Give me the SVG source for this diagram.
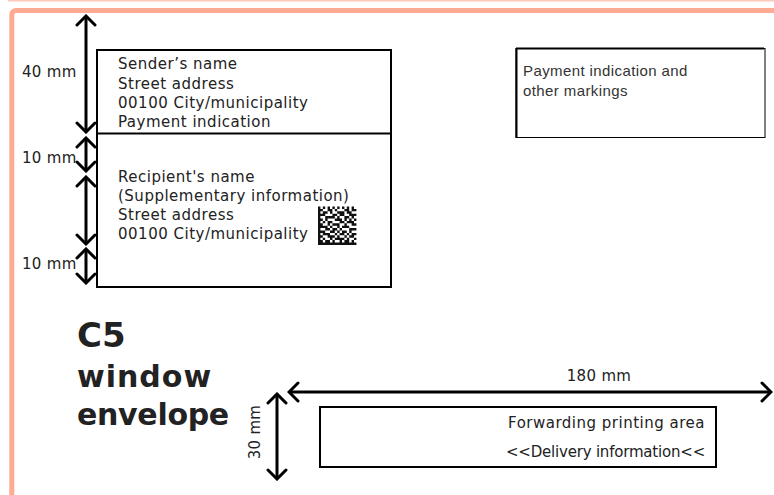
<svg xmlns="http://www.w3.org/2000/svg" width="774" height="495" viewBox="0 0 774 495">
<defs>
<marker id="chev" viewBox="-12 -12 14 24" markerWidth="14" markerHeight="24" refX="0" refY="0" markerUnits="userSpaceOnUse" orient="auto-start-reverse">
<path d="M-9,-9 L0,0 L-9,9" fill="none" stroke="#000" stroke-width="3" stroke-linecap="round" stroke-linejoin="miter"/>
</marker>
<style>
.t{font-family:"DejaVu Sans","Liberation Sans",sans-serif;font-size:15px;fill:#222;letter-spacing:0.5px}
.d{font-family:"DejaVu Sans","Liberation Sans",sans-serif;font-size:15px;fill:#222;letter-spacing:0.3px}
.a{font-family:"Liberation Sans",Arial,sans-serif;font-size:15px;fill:#333;letter-spacing:0.4px}
.h{font-family:"DejaVu Sans","Liberation Sans",sans-serif;font-weight:bold;fill:#222}
.box{fill:#fff;stroke:#000;stroke-width:2}
.dim{stroke:#000;stroke-width:3;fill:none;marker-start:url(#chev);marker-end:url(#chev)}
</style>
</defs>
<rect width="774" height="495" fill="#fff"/>
<g id="frame">
<line x1="8" y1="0.7" x2="774" y2="0.7" stroke="#ffc8b8" stroke-width="1.5"/>
<rect x="11.8" y="10.5" width="800" height="600" rx="4" fill="none" stroke="#ffab94" stroke-width="5"/>
</g>
<g id="address-window">
<rect class="box" x="97" y="50" width="294" height="237"/>
<line x1="97" y1="133.5" x2="391" y2="133.5" stroke="#000" stroke-width="2"/>
<text class="t" x="118" y="69">Sender’s name</text>
<text class="t" x="118" y="89">Street address</text>
<text class="t" x="118" y="108">00100 City/municipality</text>
<text class="t" x="118" y="127">Payment indication</text>
<text class="t" x="118" y="182">Recipient's name</text>
<text class="t" x="118" y="201">(Supplementary information)</text>
<text class="t" x="118" y="220">Street address</text>
<text class="t" x="118" y="239">00100 City/municipality</text>
<path transform="translate(318,206.5) scale(2.4)" fill="#111" d="M0 0h1v1h-1zM2 0h1v1h-1zM4 0h1v1h-1zM6 0h1v1h-1zM8 0h1v1h-1zM10 0h1v1h-1zM12 0h1v1h-1zM14 0h1v1h-1zM0 1h2v1h-2zM4 1h2v1h-2zM7 1h1v1h-1zM11 1h2v1h-2zM14 1h2v1h-2zM0 2h1v1h-1zM2 2h2v1h-2zM5 2h1v1h-1zM8 2h3v1h-3zM12 2h2v1h-2zM0 3h3v1h-3zM6 3h2v1h-2zM9 3h2v1h-2zM13 3h3v1h-3zM0 4h1v1h-1zM3 4h4v1h-4zM8 4h1v1h-1zM11 4h2v1h-2zM14 4h1v1h-1zM0 5h2v1h-2zM3 5h1v1h-1zM7 5h3v1h-3zM11 5h1v1h-1zM13 5h1v1h-1zM15 5h1v1h-1zM0 6h1v1h-1zM2 6h1v1h-1zM4 6h2v1h-2zM9 6h2v1h-2zM12 6h3v1h-3zM0 7h2v1h-2zM4 7h1v1h-1zM6 7h3v1h-3zM11 7h1v1h-1zM14 7h2v1h-2zM0 8h4v1h-4zM5 8h1v1h-1zM8 8h1v1h-1zM10 8h3v1h-3zM0 9h1v1h-1zM3 9h2v1h-2zM6 9h2v1h-2zM9 9h1v1h-1zM13 9h3v1h-3zM0 10h3v1h-3zM5 10h2v1h-2zM8 10h1v1h-1zM10 10h2v1h-2zM13 10h1v1h-1zM0 11h1v1h-1zM2 11h3v1h-3zM7 11h1v1h-1zM9 11h2v1h-2zM12 11h1v1h-1zM14 11h2v1h-2zM0 12h2v1h-2zM4 12h3v1h-3zM8 12h1v1h-1zM11 12h1v1h-1zM13 12h2v1h-2zM0 13h1v1h-1zM2 13h1v1h-1zM5 13h1v1h-1zM7 13h4v1h-4zM12 13h1v1h-1zM15 13h1v1h-1zM0 14h2v1h-2zM3 14h2v1h-2zM6 14h1v1h-1zM9 14h1v1h-1zM11 14h2v1h-2zM14 14h1v1h-1zM0 15h16v1h-16z"/>
</g>
<g id="payment-box">
<rect x="516" y="48.5" width="249" height="89" fill="#fff" stroke="#000" stroke-width="1"/>
<line x1="516.5" y1="48" x2="516.5" y2="138" stroke="#000" stroke-width="2"/>
<line x1="516" y1="48.5" x2="764" y2="48.5" stroke="#000" stroke-width="2"/>
<text class="a" x="523" y="76">Payment indication and</text>
<text class="a" x="523" y="96">other markings</text>
</g>
<g id="title">
<text class="h" x="77" y="347" font-size="34">C5</text>
<text class="h" x="77" y="387" font-size="30" letter-spacing="1">window</text>
<text class="h" x="77" y="425" font-size="30" letter-spacing="-0.3">envelope</text>
</g>
<g id="forwarding-area">
<rect class="box" x="320" y="407" width="396" height="60"/>
<text class="t" x="705" y="428" text-anchor="end">Forwarding printing area</text>
<text class="t" x="705" y="457" text-anchor="end" style="letter-spacing:-0.2px">&lt;&lt;Delivery information&lt;&lt;</text>
</g>
<g id="connectors">
<line class="dim" x1="86" y1="16" x2="86" y2="132"/>
<line class="dim" x1="86" y1="138" x2="86" y2="171"/>
<line class="dim" x1="86" y1="177" x2="86" y2="244"/>
<line class="dim" x1="86" y1="249" x2="86" y2="283"/>
<line class="dim" x1="277" y1="394" x2="277" y2="479"/>
<line class="dim" x1="289" y1="392" x2="771" y2="392"/>
</g>
<g id="dimension-labels">
<text class="d" x="22" y="77">40 mm</text>
<text class="d" x="22" y="163">10 mm</text>
<text class="d" x="22" y="269">10 mm</text>
<text class="d" x="599" y="381" text-anchor="middle">180 mm</text>
<text class="d" x="260" y="432" text-anchor="middle" transform="rotate(-90 260 432)">30 mm</text>
</g>
</svg>
